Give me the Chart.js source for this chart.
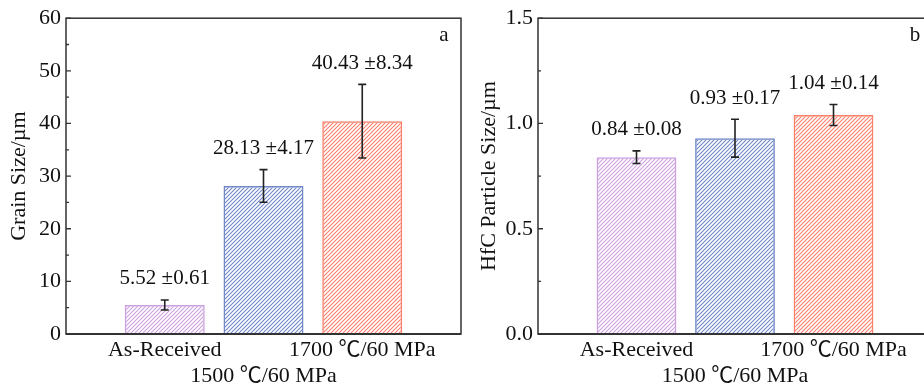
<!DOCTYPE html>
<html>
<head>
<meta charset="utf-8">
<script src="https://cdn.jsdelivr.net/npm/chart.js@4.4.1/dist/chart.umd.min.js"></script>
<style>
  html, body { margin: 0; padding: 0; background: #fff; overflow: hidden; width: 924px; height: 385px; }
  .panel { position: absolute; top: 0; height: 385px; }
  #pa { left: 0; width: 462px; }
  #pb { left: 470px; width: 463px; }
</style>
</head>
<body>
<div class="panel" id="pa"><canvas id="ca"></canvas></div>
<div class="panel" id="pb"><canvas id="cb"></canvas></div>
<script>
const categories = ['As-Received', '1500 ℃/60 MPa', '1700 ℃/60 MPa'];
const positions = [1, 2, 3];

const grainSize = [5.52, 28.13, 40.43];
const grainErr = [0.95, 3.1, 7.0];
const grainLabels = ['5.52 ±0.61', '28.13 ±4.17', '40.43 ±8.34'];

const hfcSize = [0.84, 0.93, 1.04];
const hfcErr = [0.03, 0.09, 0.05];
const hfcLabels = ['0.84 ±0.08', '0.93 ±0.17', '1.04 ±0.14'];

const barColors = ['rgb(204,160,224)', 'rgb(112,136,200)', 'rgb(250,128,108)'];

// Liberation Serif has no ℃, the CJK font gives a thin one
const FONT = '"Liberation Serif", "Noto Sans CJK SC", serif';
Chart.defaults.font.family = FONT;
Chart.defaults.color = '#111';

// diagonal "/" hatching on white
function hatch(color) {
    const c = document.createElement('canvas');
    c.width = 4; c.height = 4;
    const g = c.getContext('2d');
    g.strokeStyle = color;
    g.lineWidth = 1.1;
    g.beginPath();
    g.moveTo(-1, 5); g.lineTo(5, -1);
    g.moveTo(-1, 1); g.lineTo(1, -1);
    g.moveTo(3, 5); g.lineTo(5, 3);
    g.stroke();
    return g.createPattern(c, 'repeat');
}

// frame, inward y ticks, error bars, value labels, panel letter
const decorPlugin = {
    id: 'decor',
    afterDatasetsDraw(chart, args, opts) {
        const { ctx, chartArea: a, scales: { x, y } } = chart;
        ctx.save();

        ctx.strokeStyle = '#222';
        ctx.lineWidth = 1.6;
        ctx.fillStyle = '#111';
        ctx.font = '21px ' + FONT;
        ctx.textAlign = 'center';
        ctx.textBaseline = 'middle';
        opts.values.forEach((v, i) => {
            const px = x.getPixelForValue(positions[i]);
            const top = y.getPixelForValue(v + opts.errors[i]);
            const bot = y.getPixelForValue(v - opts.errors[i]);
            ctx.beginPath();
            ctx.moveTo(px, top); ctx.lineTo(px, bot);
            ctx.moveTo(px - 4, top); ctx.lineTo(px + 4, top);
            ctx.moveTo(px - 4, bot); ctx.lineTo(px + 4, bot);
            ctx.stroke();
            ctx.fillText(opts.labels[i], px, top - 21);
        });

        ctx.strokeStyle = '#333';
        ctx.lineWidth = 1.5;
        ctx.strokeRect(a.left, a.top, a.right - a.left, a.bottom - a.top);
        ctx.lineWidth = 2;
        ctx.beginPath();
        ctx.moveTo(a.left, a.bottom); ctx.lineTo(a.right, a.bottom);
        ctx.stroke();

        ctx.lineWidth = 1.3;
        ctx.beginPath();
        y.ticks.forEach(t => {
            const py = y.getPixelForValue(t.value);
            const r = t.value / opts.major;
            const major = Math.abs(r - Math.round(r)) < 1e-6;
            ctx.moveTo(a.left, py);
            ctx.lineTo(a.left + (major ? 5 : 3), py);
        });
        ctx.stroke();

        ctx.font = '21px ' + FONT;
        ctx.fillText(opts.letter, a.right - 17, a.top + 17);
        ctx.restore();
    }
};

function makeChart(id, p) {
    return new Chart(document.getElementById(id), {
        type: 'bar',
        data: {
            datasets: [{
                data: positions.map((px, i) => ({ x: px, y: p.values[i] })),
                backgroundColor: barColors.map(hatch),
                borderColor: barColors,
                borderWidth: 1.5,
                categoryPercentage: 1,
                barPercentage: 0.81
            }]
        },
        options: {
            responsive: true,
            maintainAspectRatio: false,
            animation: false,
            layout: { padding: { top: 16, right: 1, left: 0, bottom: 0 } },
            plugins: {
                legend: { display: false },
                tooltip: { enabled: false },
                decor: {
                    values: p.values, errors: p.errors, labels: p.labels,
                    major: p.major, letter: p.letter
                }
            },
            scales: {
                x: {
                    type: 'linear', min: 0, max: 4, offset: false,
                    grid: { display: false, drawTicks: false },
                    border: { display: false },
                    afterBuildTicks: s => { s.ticks = positions.map(v => ({ value: v })); },
                    afterFit: s => { s.height = 51; },
                    ticks: {
                        autoSkip: false, maxRotation: 0, padding: 3,
                        font: { size: 22 },
                        callback: v => {
                            const i = positions.indexOf(v);
                            return i === 1 ? ['', categories[i]] : categories[i];
                        }
                    }
                },
                y: {
                    min: 0, max: p.max,
                    grid: { display: false, drawTicks: false },
                    border: { display: false },
                    afterFit: s => { s.width = p.axisWidth; },
                    ticks: {
                        stepSize: p.major / 2, padding: 5, autoSkip: false,
                        font: { size: 22 },
                        callback: v => {
                            const r = v / p.major;
                            return Math.abs(r - Math.round(r)) < 1e-6 ? v.toFixed(p.digits) : '';
                        }
                    },
                    title: {
                        display: true, text: p.title,
                        font: { size: 22 }, padding: { top: 6, bottom: 0 }
                    }
                }
            }
        },
        plugins: [decorPlugin]
    });
}

makeChart('ca', {
    values: grainSize, errors: grainErr, labels: grainLabels,
    max: 60, major: 10, digits: 0, axisWidth: 66,
    title: 'Grain Size/µm', letter: 'a'
});

makeChart('cb', {
    values: hfcSize, errors: hfcErr, labels: hfcLabels,
    max: 1.5, major: 0.5, digits: 1, axisWidth: 68,
    title: 'HfC Particle Size/µm', letter: 'b'
});
</script>
</body>
</html>
